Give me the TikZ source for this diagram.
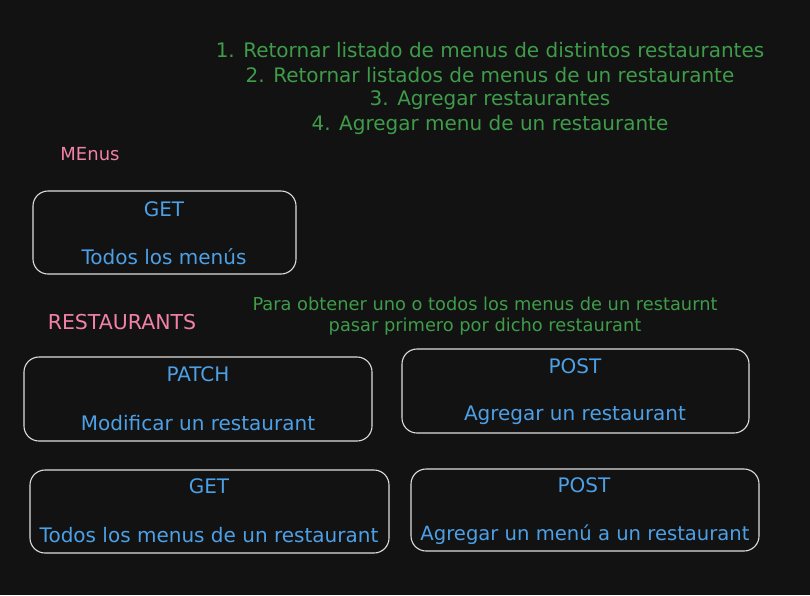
\documentclass[tikz,border=0pt]{standalone}
\usepackage{fontspec}
\setmainfont{DejaVu Sans}
\definecolor{bg}{HTML}{121212}
\definecolor{grn}{HTML}{3E9C4A}
\definecolor{pnk}{HTML}{F281A6}
\definecolor{blu}{HTML}{4DA0E6}
\definecolor{edge}{HTML}{DDDDDD}
\begin{document}
\begin{tikzpicture}[x=1pt,y=-1pt,
  card/.style={draw=edge,line width=1.1pt,rounded corners=15pt,inner sep=0pt},
  bt/.style={text=blu,font=\fontsize{20}{22}\selectfont,inner sep=0pt,anchor=center},
  gt/.style={text=grn,font=\fontsize{20}{22}\selectfont,inner sep=0pt,anchor=center},
  gs/.style={text=grn,font=\fontsize{17.8}{19}\selectfont,inner sep=0pt,anchor=center},
  pt/.style={text=pnk,font=\fontsize{18}{20}\selectfont,inner sep=0pt,anchor=center}]
\fill[bg] (0,0) rectangle (810,595);
\useasboundingbox (0,0) rectangle (810,595);
% top list
\node[gt] (l1) at (490,50) {1. Retornar listado de menus de distintos restaurantes};
\node[gt] (l2) at (490,75) {2. Retornar listados de menus de un restaurante};
\node[gt] (l3) at (490,100) {3. Agregar restaurantes};
\node[gt] (l4) at (490,125) {4. Agregar menu de un restaurante};
% section labels
\node[pt] (menus) at (90,154) {MEnus};
\node[pt,font=\fontsize{20.5}{22}\selectfont] (rest) at (122,322) {RESTAURANTS};
\node[gs] (n1) at (485,304) {Para obtener uno o todos los menus de un restaurnt};
\node[gs] (n2) at (485,327) {pasar primero por dicho restaurant};
% boxes
\node[card,minimum width=263pt,minimum height=83pt] (b1) at (164.5,232.5) {};
\node[card,minimum width=348pt,minimum height=84pt] (b2) at (198,399) {};
\node[card,minimum width=347pt,minimum height=84pt] (b3) at (575.5,391) {};
\node[card,minimum width=359pt,minimum height=83pt] (b4) at (209.5,511.5) {};
\node[card,minimum width=348pt,minimum height=82pt] (b5) at (585,510) {};
% box texts
\node[bt] (b1a) at (164,209) {GET};
\node[bt] (b1b) at (164,257) {Todos los menús};
\node[bt] (b2a) at (198,374) {PATCH};
\node[bt] (b2b) at (198,423) {Modificar un restaurant};
\node[bt] (b3a) at (575,366) {POST};
\node[bt] (b3b) at (575,415) {Agregar un restaurant};
\node[bt] (b4a) at (209,486) {GET};
\node[bt] (b4b) at (209,535) {Todos los menus de un restaurant};
\node[bt] (b5a) at (584,485) {POST};
\node[bt,font=\fontsize{19.6}{22}\selectfont] (b5b) at (585,535) {Agregar un menú a un restaurant};
\end{tikzpicture}
\end{document}
